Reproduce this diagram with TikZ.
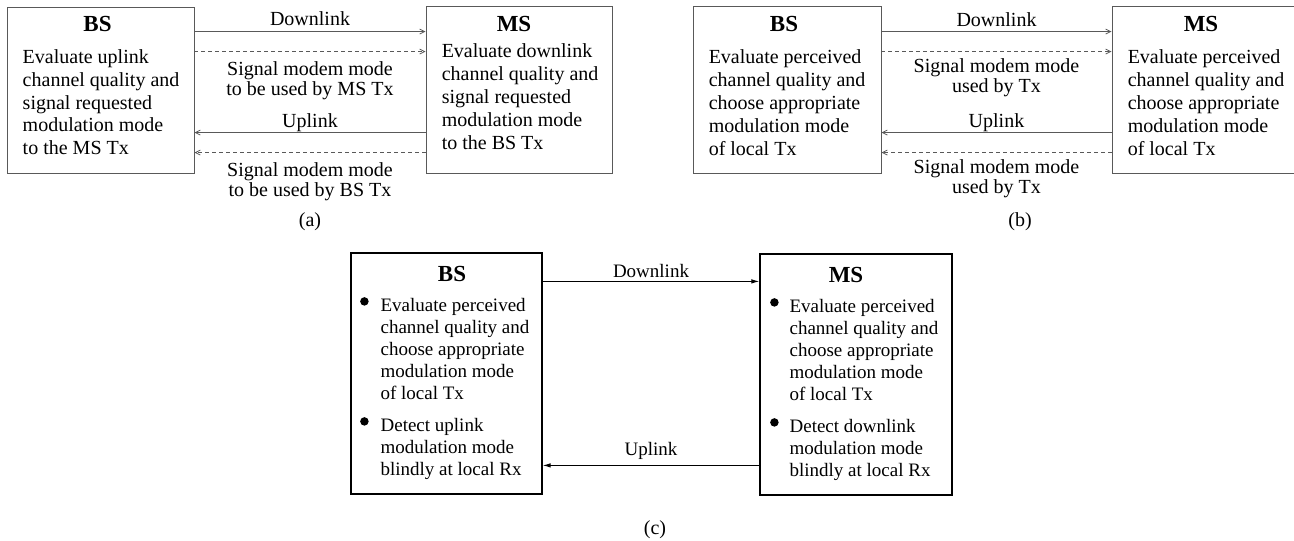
\documentclass[tikz,border=0pt]{standalone}
\usepackage{fontspec}
\setmainfont{Liberation Serif}
\usetikzlibrary{arrows.meta,calc}

\tikzset{
  box/.style={draw=black!65, line width=0.9pt, inner sep=0pt},
  cbox/.style={draw=black, line width=1.2pt, inner sep=0pt},
  title/.style={font=\fontsize{23}{26}\selectfont\bfseries, inner sep=0pt, anchor=base},
  body/.style={font=\fontsize{20}{22.6}\selectfont, align=left, inner sep=0pt, anchor=north west},
  bodywide/.style={body, font=\fontsize{20}{23}\selectfont},
  cbody/.style={font=\fontsize{19}{22}\selectfont, align=left, inner sep=0pt, anchor=north west},
  lab/.style={font=\fontsize{20}{20}\selectfont, align=center, inner sep=0pt},
  figcaption/.style={font=\fontsize{20}{20}\selectfont, inner sep=0pt, anchor=base},
  link/.style={draw=black!65, line width=0.8pt, -{Straight Barb[length=5pt,width=5pt]}},
  msg/.style={link, dash pattern=on 4pt off 3pt},
  clink/.style={draw=black, line width=1pt, -{Latex[length=8pt,width=4.5pt]}},
  bullet/.style={circle, fill=black, inner sep=0pt, minimum size=8.5pt},
}

\begin{document}
\begin{tikzpicture}[x=1pt,y=-1pt]
\useasboundingbox (0,0) rectangle (1294,541);

% ---------- (a) closed-loop signalling ----------
\node[box, minimum width=187pt, minimum height=166pt] (bsA) at (100.5,90) {};
\node[box, minimum width=186pt, minimum height=167pt] (msA) at (519,89.5) {};
\node[title] (bsAt) at ($(bsA.north)+(-3,25)$) {BS};
\node[title] (msAt) at ($(msA.north)+(-5,26)$) {MS};
\node[body] (bsAb) at ($(bsA.north west)+(16,43.3)$)
  {Evaluate uplink\\channel quality and\\signal requested\\modulation mode\\to the MS Tx};
\node[bodywide] (msAb) at ($(msA.north west)+(16,38.3)$)
  {Evaluate downlink\\channel quality and\\signal requested\\modulation mode\\to the BS Tx};

\draw[link] ($(bsA.north east)+(0,25)$) coordinate (a1) -- (a1 -| msA.west)
  node[lab, midway, anchor=base, yshift=6pt] (a1l) {Downlink};
\draw[msg] ($(bsA.north east)+(0,45)$) coordinate (a2) -- (a2 -| msA.west)
  node[lab, midway, anchor=north, yshift=-9.3pt] (a2l) {Signal modem mode\\to be used by MS Tx};
\draw[link] ($(msA.north west)+(0,127)$) coordinate (a3) -- (a3 -| bsA.east)
  node[lab, midway, anchor=base, yshift=5pt] (a3l) {Uplink};
\draw[msg] ($(msA.north west)+(0,147)$) coordinate (a4) -- (a4 -| bsA.east)
  node[lab, midway, anchor=north, yshift=-9.3pt] (a4l) {Signal modem mode\\to be used by BS Tx};
\node[figcaption] (capA) at (310,226) {(a)};

% ---------- (b) open-loop with explicit signalling ----------
\node[box, minimum width=188pt, minimum height=167pt] (bsB) at (787,89.5) {};
\node[box, minimum width=187pt, minimum height=167pt] (msB) at (1205.5,89.5) {};
\node[title] (bsBt) at ($(bsB.north)+(-3,26)$) {BS};
\node[title] (msBt) at ($(msB.north)+(-4.5,26)$) {MS};
\node[bodywide] (bsBb) at ($(bsB.north west)+(16,44.3)$)
  {Evaluate perceived\\channel quality and\\choose appropriate\\modulation mode\\of local Tx};
\node[bodywide] (msBb) at ($(msB.north west)+(16,44.3)$)
  {Evaluate perceived\\channel quality and\\choose appropriate\\modulation mode\\of local Tx};

\draw[link] ($(bsB.north east)+(0,26)$) coordinate (b1) -- (b1 -| msB.west)
  node[lab, midway, anchor=base, yshift=5pt] (b1l) {Downlink};
\draw[msg] ($(bsB.north east)+(0,46)$) coordinate (b2) -- (b2 -| msB.west)
  node[lab, midway, anchor=north, yshift=-6.3pt] (b2l) {Signal modem mode\\used by Tx};
\draw[link] ($(msB.north west)+(0,127)$) coordinate (b3) -- (b3 -| bsB.east)
  node[lab, midway, anchor=base, yshift=5pt] (b3l) {Uplink};
\draw[msg] ($(msB.north west)+(0,147)$) coordinate (b4) -- (b4 -| bsB.east)
  node[lab, midway, anchor=north, yshift=-6.3pt] (b4l) {Signal modem mode\\used by Tx};
\node[figcaption] (capB) at (1020,226) {(b)};

% ---------- (c) blind detection ----------
\node[cbox, minimum width=191pt, minimum height=241pt] (bsC) at (446.5,373.5) {};
\node[cbox, minimum width=192pt, minimum height=241pt] (msC) at (856,374.5) {};
\node[title] (bsCt) at ($(bsC.north)+(5.5,29)$) {BS};
\node[title] (msCt) at ($(msC.north)+(-10,29)$) {MS};

\node[bullet] (bsC1) at ($(bsC.north west)+(14,49)$) {};
\node[bullet] (bsC2) at ($(bsC.north west)+(14,169)$) {};
\node[cbody] (bsCb1) at ($(bsC.north west)+(30,46)$)
  {Evaluate perceived\\channel quality and\\choose appropriate\\modulation mode\\of local Tx};
\node[cbody] (bsCb2) at ($(bsC.north west)+(30,166)$)
  {Detect uplink\\modulation mode\\blindly at local Rx};

\node[bullet] (msC1) at ($(msC.north west)+(15,49)$) {};
\node[bullet] (msC2) at ($(msC.north west)+(15,169)$) {};
\node[cbody] (msCb1) at ($(msC.north west)+(30,46)$)
  {Evaluate perceived\\channel quality and\\choose appropriate\\modulation mode\\of local Tx};
\node[cbody] (msCb2) at ($(msC.north west)+(30,166)$)
  {Detect downlink\\modulation mode\\blindly at local Rx};

\draw[clink] ($(bsC.north east)+(0,29)$) coordinate (c1) -- (c1 -| msC.west)
  node[lab, font=\fontsize{19}{19}\selectfont, midway, anchor=base, yshift=4pt] (c1l) {Downlink};
\draw[clink] ($(msC.north west)+(0,212)$) coordinate (c2) -- (c2 -| bsC.east)
  node[lab, font=\fontsize{19}{19}\selectfont, midway, anchor=base, yshift=10pt] (c2l) {Uplink};
\node[figcaption] (capC) at (655,534) {(c)};
\end{tikzpicture}
\end{document}
